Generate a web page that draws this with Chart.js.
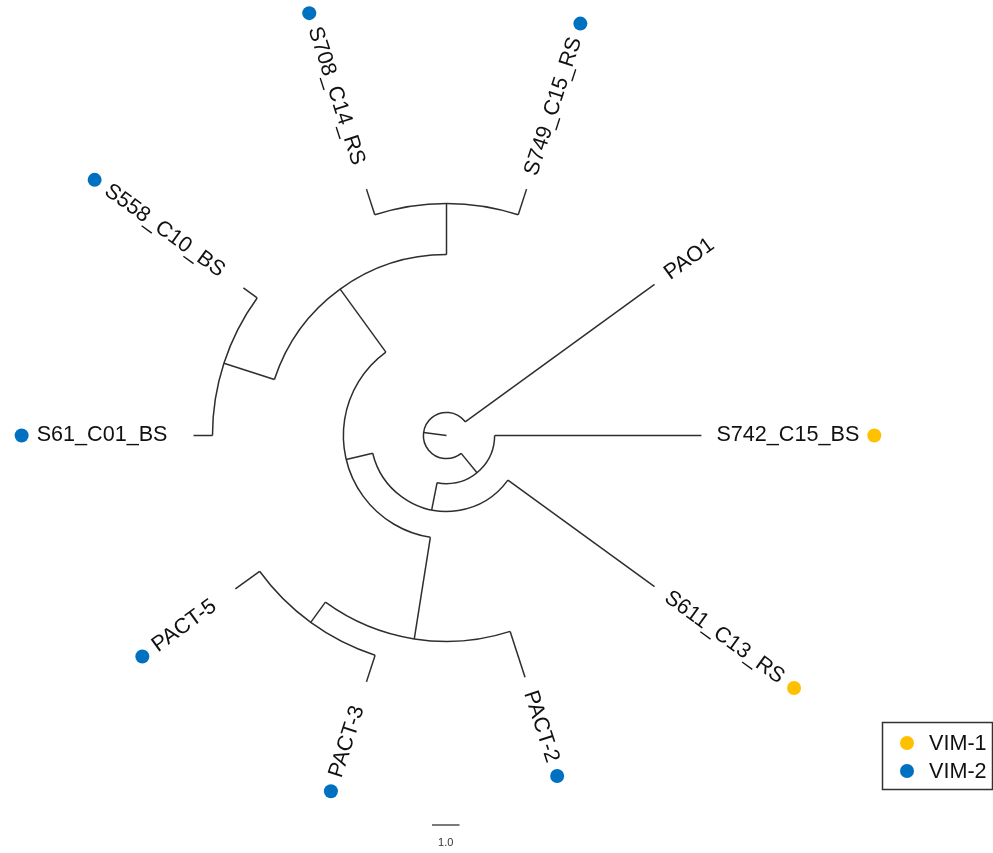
<!DOCTYPE html>
<html>
<head>
<meta charset="utf-8">
<script src="https://cdn.jsdelivr.net/npm/chart.js@4.4.0/dist/chart.umd.min.js"></script>
<style>
  html, body { margin: 0; padding: 0; background: #fff; }
  #wrap { width: 993px; height: 853px; }
</style>
</head>
<body>
<div id="wrap"><canvas id="treeChart" width="993" height="853"></canvas></div>
<script>
// tips in ring order, going counter-clockwise from PAO1
const tipNames  = ["PAO1", "S749_C15_RS", "S708_C14_RS", "S558_C10_BS", "S61_C01_BS", "PACT-5", "PACT-3", "PACT-2", "S611_C13_RS", "S742_C15_BS"];
const tipDepth  = [9.35, 9.42, 9.42, 9.13, 9.20, 9.49, 9.42, 9.24, 9.35, 9.27];
const tipParent = ["root", "D", "D", "E", "E", "I", "I", "H", "B", "A"];
const tipGroup  = [null, "VIM-2", "VIM-2", "VIM-2", "VIM-2", "VIM-2", "VIM-2", "VIM-2", "VIM-1", "VIM-1"];

// internal nodes (depth = distance from the centre)
const nodeNames  = ["root", "A", "B", "C", "G", "D", "E", "H", "I"];
const nodeDepth  = [0.84, 1.75, 2.76, 3.75, 6.58, 8.44, 8.51, 7.49, 8.40];
const nodeParent = [null, "root", "A", "B", "C", "G", "G", "C", "H"];

const groupNames  = ["VIM-1", "VIM-2"];
const groupColors = ["#FFC000", "#0070C0"];
const scaleBarLength = 1.0;
const scaleBarLabel = "1.0";

// layout
const W = 993, H = 853;
const ppu = 27.5;            // pixels per branch-length unit
const cx = 446.5, cy = 435.5; // where the root sits on the page
const lineColor = '#2e2e2e';
const labelFont = '21.6px "Liberation Sans", Arial, sans-serif';
const gapRight = 15, gapLeft = 26, dotGap = 15;

// ---- tree layout ----
const deg = Math.PI / 180;
const depthOf = {}, parentOf = {}, children = {};
tipNames.forEach((n, i) => { depthOf[n] = tipDepth[i]; parentOf[n] = tipParent[i]; });
nodeNames.forEach((n, i) => { depthOf[n] = nodeDepth[i]; parentOf[n] = nodeParent[i]; });
Object.keys(parentOf).forEach(n => {
  const p = parentOf[n];
  if (p) (children[p] = children[p] || []).push(n);
});
const angleOf = {};
tipNames.forEach((n, i) => { angleOf[n] = (i + 1) * 360 / tipNames.length; });
function nodeAngle(n) {
  if (angleOf[n] !== undefined) return angleOf[n];
  const a = children[n].map(nodeAngle);
  angleOf[n] = a.reduce((s, v) => s + v, 0) / a.length;
  return angleOf[n];
}
nodeNames.forEach(nodeAngle);

const polar = (r, a) => ({ x: r * Math.cos(a * deg), y: r * Math.sin(a * deg) });

// radial branches, one dataset each
const edgeSets = [];
Object.keys(parentOf).forEach(n => {
  const p = parentOf[n];
  const a = angleOf[n];
  const r0 = p ? depthOf[p] : 0;
  edgeSets.push({
    type: 'scatter',
    data: [polar(r0, a), polar(depthOf[n], a)],
    showLine: true,
    borderColor: lineColor,
    borderWidth: 1.5,
    pointRadius: 0,
    pointHoverRadius: 0
  });
});

// tip points sit after each label
const measure = document.createElement('canvas').getContext('2d');
measure.font = labelFont;
const dotData = [], dotColors = [];
tipNames.forEach((n, i) => {
  if (!tipGroup[i]) return;
  const a = angleOf[n];
  const right = Math.cos(a * deg) > 0;
  const w = measure.measureText(n).width;
  const rpx = tipDepth[i] * ppu + (right ? gapRight : gapLeft) + w + dotGap;
  dotData.push(polar(rpx / ppu, a));
  dotColors.push(groupColors[groupNames.indexOf(tipGroup[i])]);
});

const treePlugin = {
  id: 'treeDecor',
  beforeDatasetsDraw(chart) {
    const { ctx, scales: { x, y } } = chart;
    const ox = x.getPixelForValue(0), oy = y.getPixelForValue(0);
    ctx.save();
    ctx.strokeStyle = lineColor;
    ctx.lineWidth = 1.5;
    nodeNames.forEach(n => {
      const a = children[n].map(c => angleOf[c]);
      const a1 = Math.min(...a), a2 = Math.max(...a);
      const r = x.getPixelForValue(depthOf[n]) - ox;
      ctx.beginPath();
      ctx.arc(ox, oy, r, -a2 * deg, -a1 * deg, false);
      ctx.stroke();
    });
    ctx.restore();
  },
  afterDatasetsDraw(chart) {
    const { ctx, scales: { x, y } } = chart;
    const ox = x.getPixelForValue(0), oy = y.getPixelForValue(0);
    ctx.save();
    ctx.font = labelFont;
    ctx.fillStyle = '#111';
    ctx.textBaseline = 'middle';
    tipNames.forEach((n, i) => {
      const a = angleOf[n];
      const r = x.getPixelForValue(tipDepth[i]) - ox;
      ctx.save();
      ctx.translate(ox, oy);
      if (Math.cos(a * deg) > 0) {
        ctx.rotate(-a * deg);
        ctx.textAlign = 'left';
        ctx.fillText(n, r + gapRight, 0);
      } else {
        ctx.rotate(-a * deg + Math.PI);
        ctx.textAlign = 'right';
        ctx.fillText(n, -(r + gapLeft), 0);
      }
      ctx.restore();
    });

    // legend box
    const bx = 882.5, by = 722.5, bw = 110, bh = 67;
    ctx.strokeStyle = '#333';
    ctx.lineWidth = 1.5;
    ctx.strokeRect(bx, by, bw, bh);
    ctx.textAlign = 'left';
    groupNames.forEach((g, i) => {
      const yy = 743 + i * 28;
      ctx.fillStyle = groupColors[i];
      ctx.beginPath();
      ctx.arc(907, yy, 7, 0, Math.PI * 2);
      ctx.fill();
      ctx.fillStyle = '#111';
      ctx.font = '21.6px "Liberation Sans", Arial, sans-serif';
      ctx.fillText(g, 929, yy + 1);
    });

    // scale bar
    const len = x.getPixelForValue(scaleBarLength) - ox;
    const sx = 432, sy = 825;
    ctx.strokeStyle = '#333';
    ctx.lineWidth = 1.3;
    ctx.beginPath();
    ctx.moveTo(sx, sy);
    ctx.lineTo(sx + len, sy);
    ctx.stroke();
    ctx.fillStyle = '#333';
    ctx.font = '11px "Liberation Sans", Arial, sans-serif';
    ctx.textAlign = 'center';
    ctx.fillText(scaleBarLabel, sx + len / 2, 843);
    ctx.restore();
  }
};

const treeChart = new Chart(document.getElementById('treeChart'), {
  type: 'scatter',
  data: {
    datasets: [
      ...edgeSets,
      {
        type: 'scatter',
        data: dotData,
        pointRadius: 7,
        pointHoverRadius: 7,
        pointBackgroundColor: dotColors,
        pointBorderWidth: 0,
        borderWidth: 0
      }
    ]
  },
  options: {
    responsive: false,
    animation: false,
    events: [],
    layout: { padding: 0, autoPadding: false },
    plugins: { legend: { display: false }, tooltip: { enabled: false } },
    scales: {
      x: { type: 'linear', display: false, min: -cx / ppu, max: (W - cx) / ppu },
      y: { type: 'linear', display: false, min: -(H - cy) / ppu, max: cy / ppu }
    }
  },
  plugins: [treePlugin]
});
</script>
</body>
</html>
